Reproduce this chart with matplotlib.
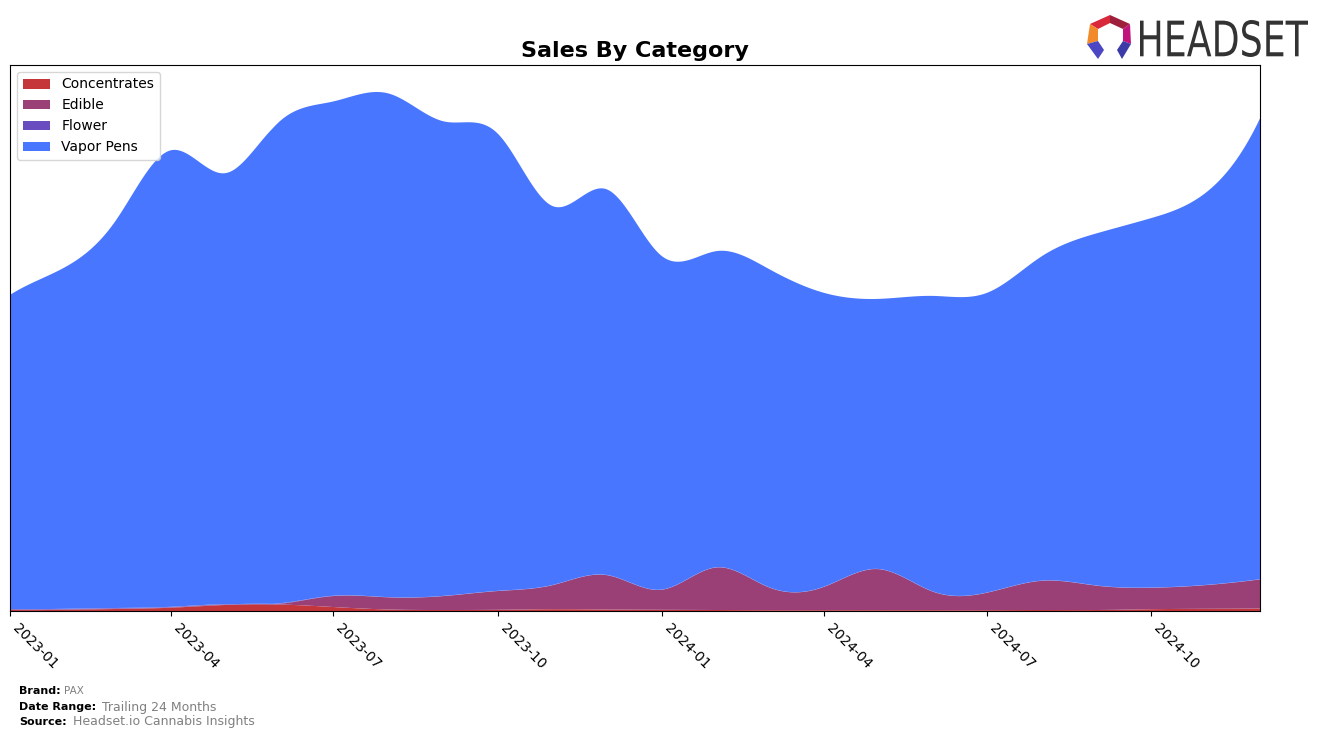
import numpy as np
import matplotlib
matplotlib.use("Agg")
import matplotlib.pyplot as plt
import matplotlib.dates as mdates
from matplotlib.textpath import TextPath
from matplotlib.patches import PathPatch, Polygon
from matplotlib.font_manager import FontProperties
from matplotlib.transforms import Affine2D
import datetime as dt

# ---------------- data (monthly sales, arbitrary units) ----------------
months = ["2023-01", "2023-02", "2023-03", "2023-04", "2023-05", "2023-06",
          "2023-07", "2023-08", "2023-09", "2023-10", "2023-11", "2023-12",
          "2024-01", "2024-02", "2024-03", "2024-04", "2024-05", "2024-06",
          "2024-07", "2024-08", "2024-09", "2024-10", "2024-11", "2024-12"]

concentrates = [1.0, 1.2, 2.0, 3.3, 6.0, 6.5, 4.0, 1.5, 1.0, 1.2, 1.8, 1.5,
                1.2, 1.0, 0.8, 0.8, 0.8, 0.8, 0.8, 1.0, 1.0, 1.8, 2.2, 2.5]
edible = [0.5, 0.5, 0.5, 0.4, 0.3, 0.7, 11.0, 12.2, 14.0, 18.8, 24.2, 34.5,
          20.1, 42.7, 22.9, 23.5, 41.2, 18.5, 17.5, 29.3, 24.3, 21.5, 23.8, 29.2]
flower = [0.5, 0.5, 0.5, 0.5, 0.5, 0.5, 0.3, 0.2, 0.2, 0.2, 0.2, 0.2,
          0.2, 0.2, 0.2, 0.2, 0.2, 0.2, 0.2, 0.2, 0.2, 0.2, 0.2, 0.2]
vapor_pens = [315.0, 342.8, 388.0, 457.8, 432.2, 483.3, 495.7, 505.1, 475.8,
              458.8, 379.8, 386.8, 334.5, 317.1, 319.1, 294.5, 270.8, 296.5,
              300.5, 325.5, 353.5, 370.5, 393.8, 462.1]

categories = ["Concentrates", "Edible", "Flower", "Vapor Pens"]
colors = ["#C4363A", "#9A4077", "#684CC0", "#4876FF"]

brand = "PAX"
date_range = "Trailing 24 Months"
source = "Headset.io Cannabis Insights"


# ---------------- smoothing helper (not-a-knot cubic spline) ----------------
def cubic_spline(x, y, xs):
    x = np.asarray(x, float)
    y = np.asarray(y, float)
    n = len(x)
    h = np.diff(x)
    A = np.zeros((n, n))
    b = np.zeros(n)
    for i in range(1, n - 1):
        A[i, i - 1] = h[i - 1]
        A[i, i] = 2 * (h[i - 1] + h[i])
        A[i, i + 1] = h[i]
        b[i] = 6 * ((y[i + 1] - y[i]) / h[i] - (y[i] - y[i - 1]) / h[i - 1])
    A[0, 0] = -h[1]
    A[0, 1] = h[0] + h[1]
    A[0, 2] = -h[0]
    A[n - 1, n - 3] = -h[n - 2]
    A[n - 1, n - 2] = h[n - 3] + h[n - 2]
    A[n - 1, n - 1] = -h[n - 3]
    M = np.linalg.solve(A, b)
    idx = np.clip(np.searchsorted(x, xs) - 1, 0, n - 2)
    x0, x1 = x[idx], x[idx + 1]
    hh = x1 - x0
    S = (M[idx] * (x1 - xs) ** 3 / (6 * hh) + M[idx + 1] * (xs - x0) ** 3 / (6 * hh)
         + (y[idx] / hh - M[idx] * hh / 6) * (x1 - xs)
         + (y[idx + 1] / hh - M[idx + 1] * hh / 6) * (xs - x0))
    return S


dates = [dt.datetime.strptime(m, "%Y-%m") for m in months]
xnum = mdates.date2num(dates)
xs = np.linspace(xnum[0], xnum[-1], 1500)

series = [concentrates, edible, flower, vapor_pens]
smooth = [np.clip(cubic_spline(xnum, s, xs), 0, None) for s in series]

# ---------------- figure ----------------
W, H = 1324, 739
fig = plt.figure(figsize=(W / 100, H / 100), dpi=100)
ax = fig.add_axes([10 / W, 1 - 611 / H, 1250 / W, 546 / H])

ax.stackplot(xs, *smooth, labels=categories, colors=colors, linewidth=0)

total = np.sum(smooth, axis=0)
ax.set_ylim(0, total.max() * 1.052)
ax.set_xlim(xnum[0], xnum[-1])
ax.set_yticks([])

ax.xaxis.set_major_locator(mdates.MonthLocator(bymonth=[1, 4, 7, 10]))
ax.xaxis.set_major_formatter(mdates.DateFormatter("%Y-%m"))
for lab in ax.get_xticklabels():
    lab.set_rotation(-45)
    lab.set_ha("left")
    lab.set_va("top")
    lab.set_fontsize(10)

ax.set_title("Sales By Category", fontsize=16, fontweight="bold", pad=6)

leg = ax.legend(loc="upper left", fontsize=10, frameon=True,
                borderpad=0.4, labelspacing=0.5, handlelength=2.0)
leg.get_frame().set_edgecolor("#cccccc")

# ---------------- footer ----------------
def footer(y, label, value, vsize, gap):
    t = fig.text(19 / W, 1 - y / H, label, fontsize=8, fontweight="bold",
                 ha="left", va="center", color="black")
    fig.canvas.draw()
    bb = t.get_window_extent()
    fig.text((bb.x1 + gap) / W, 1 - y / H, value, fontsize=vsize,
             ha="left", va="center", color="#808080")

footer(691, "Brand:", brand, 7.5, 3)
footer(707, "Date Range:", date_range, 9, 6)
footer(722, "Source:", source, 9, 6)

# ---------------- logo ----------------
lax = fig.add_axes([0, 0, 1, 1], zorder=10)
lax.set_xlim(0, W)
lax.set_ylim(H, 0)
lax.axis("off")

facets = [
    ([(1090, 24), (1110, 15), (1110, 23), (1098, 29)], "#D8283A"),
    ([(1110, 15), (1130, 24), (1123, 29), (1110, 23)], "#9E1F3C"),
    ([(1090, 24), (1098, 29), (1098, 41), (1087, 44)], "#F28A2A"),
    ([(1130, 24), (1131, 44), (1123, 41), (1123, 29)], "#C0147C"),
    ([(1087, 44), (1098, 41), (1104, 50), (1098, 59)], "#4B47C4"),
    ([(1131, 44), (1123, 41), (1117, 50), (1122, 59)], "#3B3BA8"),
]
for pts, c in facets:
    lax.add_patch(Polygon(pts, closed=True, facecolor=c, edgecolor="none"))

tp = TextPath((0, 0), "HEADSET", size=50, prop=FontProperties(family="DejaVu Sans"))
ext = tp.get_extents()
sx = 168 / ext.width
sy = 37 / ext.height
tr = Affine2D().translate(-ext.x0, -ext.y0).scale(sx, -sy).translate(1140, 57)
lax.add_patch(PathPatch(tr.transform_path(tp), facecolor="#333333", edgecolor="none"))

fig.savefig("out.png", dpi=100)
